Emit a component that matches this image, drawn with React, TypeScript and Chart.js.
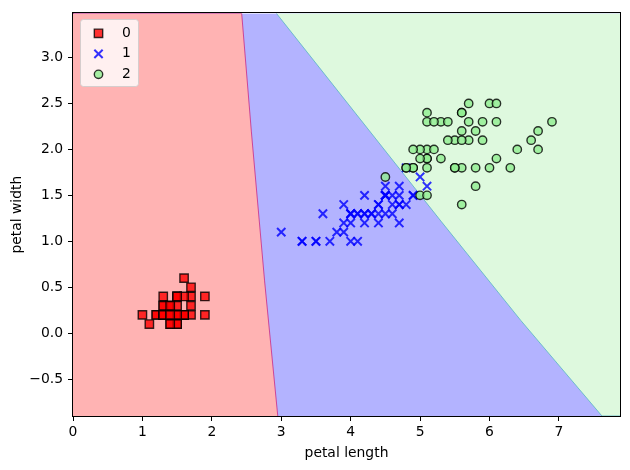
import React, { useEffect, useRef } from 'react';
import { Chart, registerables } from 'chart.js';

Chart.register(...registerables);

// ---- data ----
const classLabels = ['0', '1', '2'];

const setosaLength = [1.4, 1.4, 1.3, 1.5, 1.4, 1.7, 1.4, 1.5, 1.4, 1.5, 1.5, 1.6, 1.4, 1.1, 1.2, 1.5, 1.3, 1.4, 1.7, 1.5, 1.7, 1.5, 1.0, 1.7, 1.9, 1.6, 1.6, 1.5, 1.4, 1.6, 1.6, 1.5, 1.5, 1.4, 1.5, 1.2, 1.3, 1.4, 1.3, 1.5, 1.3, 1.3, 1.3, 1.6, 1.9, 1.4, 1.6, 1.4, 1.5, 1.4];
const setosaWidth = [0.2, 0.2, 0.2, 0.2, 0.2, 0.4, 0.3, 0.2, 0.2, 0.1, 0.2, 0.2, 0.1, 0.1, 0.2, 0.4, 0.4, 0.3, 0.3, 0.3, 0.2, 0.4, 0.2, 0.5, 0.2, 0.2, 0.4, 0.2, 0.2, 0.2, 0.2, 0.4, 0.1, 0.2, 0.2, 0.2, 0.2, 0.1, 0.2, 0.2, 0.3, 0.3, 0.2, 0.6, 0.4, 0.3, 0.2, 0.2, 0.2, 0.2];

const versicolorLength = [4.7, 4.5, 4.9, 4.0, 4.6, 4.5, 4.7, 3.3, 4.6, 3.9, 3.5, 4.2, 4.0, 4.7, 3.6, 4.4, 4.5, 4.1, 4.5, 3.9, 4.8, 4.0, 4.9, 4.7, 4.3, 4.4, 4.8, 5.0, 4.5, 3.5, 3.8, 3.7, 3.9, 5.1, 4.5, 4.5, 4.7, 4.4, 4.1, 4.0, 4.4, 4.6, 4.0, 3.3, 4.2, 4.2, 4.2, 4.3, 3.0, 4.1];
const versicolorWidth = [1.4, 1.5, 1.5, 1.3, 1.5, 1.3, 1.6, 1.0, 1.3, 1.4, 1.0, 1.5, 1.0, 1.4, 1.3, 1.4, 1.5, 1.0, 1.5, 1.1, 1.8, 1.3, 1.5, 1.2, 1.3, 1.4, 1.4, 1.7, 1.5, 1.0, 1.1, 1.0, 1.2, 1.6, 1.5, 1.6, 1.5, 1.3, 1.3, 1.3, 1.2, 1.4, 1.2, 1.0, 1.3, 1.2, 1.3, 1.3, 1.1, 1.3];

const virginicaLength = [6.0, 5.1, 5.9, 5.6, 5.8, 6.6, 4.5, 6.3, 5.8, 6.1, 5.1, 5.3, 5.5, 5.0, 5.1, 5.3, 5.5, 6.7, 6.9, 5.0, 5.7, 4.9, 6.7, 4.9, 5.7, 6.0, 4.8, 4.9, 5.6, 5.8, 6.1, 6.4, 5.6, 5.1, 5.6, 6.1, 5.6, 5.5, 4.8, 5.4, 5.6, 5.1, 5.1, 5.9, 5.7, 5.2, 5.0, 5.2, 5.4, 5.1];
const virginicaWidth = [2.5, 1.9, 2.1, 1.8, 2.2, 2.1, 1.7, 1.8, 1.8, 2.5, 2.0, 1.9, 2.1, 2.0, 2.4, 2.3, 1.8, 2.2, 2.3, 1.5, 2.3, 2.0, 2.0, 1.8, 2.1, 1.8, 1.8, 1.8, 2.1, 1.6, 1.9, 2.0, 2.2, 1.5, 1.4, 2.3, 2.4, 1.8, 1.8, 2.1, 2.4, 2.3, 1.9, 2.3, 2.5, 2.3, 1.9, 2.0, 2.3, 1.8];

// plot ranges (meshgrid extent)
const xRange = [0, 7.88];
const yRange = [-0.9, 3.48];

// decision-region outlines (data units)
const regionBlueX = [0, 7.88];
const regionBlueY = [-0.9, -0.9];
const regionRedX = [0, 2.43, 2.57, 2.76, 2.95];
const regionRedY = [3.48, 3.48, 2.19, 0.57, -0.9];
const regionGreenX = [2.93, 5.3, 6.45, 7.62, 7.88];
const regionGreenY = [3.48, 1.22, 0.14, -0.9, -0.9];

const xTickStep = 1;
const yTickStep = 0.5;

const zip = (xs: number[], ys: number[]) => xs.map((x, i) => ({ x, y: ys[i] }));

const FONT = 'DejaVu Sans';
const FS = 13.9;

const markerStyles = [
  { style: 'rect', fill: 'rgba(255,0,0,0.8)', stroke: 'rgba(0,0,0,0.8)', r: 5.9, bw: 1.4 },
  { style: 'crossRot', fill: 'rgba(0,0,255,0.8)', stroke: 'rgba(0,0,255,0.8)', r: 5.9, bw: 2 },
  { style: 'circle', fill: 'rgba(144,238,144,0.8)', stroke: 'rgba(0,0,0,0.8)', r: 4.2, bw: 1.4 },
];

function drawMarker(ctx: CanvasRenderingContext2D, i: number, x: number, y: number) {
  const m = markerStyles[i];
  ctx.save();
  ctx.lineWidth = m.bw;
  ctx.fillStyle = m.fill;
  ctx.strokeStyle = m.stroke;
  ctx.beginPath();
  if (m.style === 'rect') {
    const s = Math.SQRT1_2 * m.r;
    ctx.rect(x - s, y - s, 2 * s, 2 * s);
    ctx.fill();
    ctx.stroke();
  } else if (m.style === 'circle') {
    ctx.arc(x, y, m.r, 0, Math.PI * 2);
    ctx.fill();
    ctx.stroke();
  } else {
    const o = Math.SQRT1_2 * m.r;
    ctx.moveTo(x - o, y - o);
    ctx.lineTo(x + o, y + o);
    ctx.moveTo(x - o, y + o);
    ctx.lineTo(x + o, y - o);
    ctx.stroke();
  }
  ctx.restore();
}

const spinePlugin = {
  id: 'spines',
  afterDatasetsDraw(chart: any) {
    const { ctx, chartArea: a } = chart;
    ctx.save();
    ctx.strokeStyle = '#000';
    ctx.lineWidth = 1;
    ctx.strokeRect(Math.round(a.left) - 0.5, Math.round(a.top) - 0.5, Math.round(a.right - a.left) + 1, Math.round(a.bottom - a.top) + 1);
    ctx.restore();
  },
};

const legendPlugin = {
  id: 'mplLegend',
  afterDraw(chart: any) {
    const { ctx, chartArea: a } = chart;
    ctx.save();
    const x0 = Math.round(a.left) + 7.5;
    const y0 = Math.round(a.top) + 6.5;
    const w = 58;
    const h = 67;
    const r = 3;
    ctx.beginPath();
    ctx.moveTo(x0 + r, y0);
    ctx.arcTo(x0 + w, y0, x0 + w, y0 + h, r);
    ctx.arcTo(x0 + w, y0 + h, x0, y0 + h, r);
    ctx.arcTo(x0, y0 + h, x0, y0, r);
    ctx.arcTo(x0, y0, x0 + w, y0, r);
    ctx.closePath();
    ctx.fillStyle = 'rgba(255,255,255,0.8)';
    ctx.fill();
    ctx.strokeStyle = 'rgba(204,204,204,0.8)';
    ctx.lineWidth = 1;
    ctx.stroke();
    ctx.font = `${FS}px "${FONT}"`;
    ctx.fillStyle = '#000';
    ctx.textAlign = 'left';
    ctx.textBaseline = 'middle';
    classLabels.forEach((lab, i) => {
      const cy = a.top + 20 + i * 20.5;
      drawMarker(ctx, i, a.left + 25.5, cy);
      ctx.fillText(lab, a.left + 49, cy);
    });
    ctx.restore();
  },
};

const fmtMinus = (v: number, d: number) => {
  const s = Number(v).toFixed(d);
  return s.startsWith('-') ? '\u2212' + s.slice(1) : s;
};

export default function App() {
  const ref = useRef<HTMLCanvasElement | null>(null);

  useEffect(() => {
    if (!ref.current) return;
    Chart.defaults.font.family = FONT;
    Chart.defaults.font.size = FS;
    Chart.defaults.color = '#000';

    const scatterSets = [
      [setosaLength, setosaWidth],
      [versicolorLength, versicolorWidth],
      [virginicaLength, virginicaWidth],
    ].map(([xs, ys], i) => {
      const m = markerStyles[i];
      return {
        type: 'scatter' as const,
        label: classLabels[i],
        data: zip(xs, ys),
        pointStyle: m.style,
        pointRadius: m.r,
        pointHoverRadius: m.r,
        pointBackgroundColor: m.fill,
        pointBorderColor: m.stroke,
        pointBorderWidth: m.bw,
        backgroundColor: m.fill,
        borderColor: m.stroke,
        order: 3 - i,
      };
    });

    const regionBase = {
      type: 'line' as const,
      pointRadius: 0,
      pointHoverRadius: 0,
      tension: 0,
    };

    const chart = new Chart(ref.current, {
      type: 'scatter',
      data: {
        datasets: [
          ...scatterSets,
          {
            ...regionBase,
            label: 'region0',
            data: zip(regionRedX, regionRedY),
            fill: 'start',
            backgroundColor: '#FFB3B3',
            borderColor: 'rgba(200,50,140,0.85)',
            borderWidth: 1,
            order: 11,
          },
          {
            ...regionBase,
            label: 'region2',
            data: zip(regionGreenX, regionGreenY),
            fill: 'end',
            backgroundColor: '#DEF9DE',
            borderColor: 'rgba(100,185,200,0.9)',
            borderWidth: 1,
            order: 11,
          },
          {
            ...regionBase,
            label: 'region1',
            data: zip(regionBlueX, regionBlueY),
            fill: 'end',
            backgroundColor: '#B3B3FF',
            borderWidth: 0,
            order: 12,
          },
        ] as any,
      },
      options: {
        responsive: false,
        animation: false,
        devicePixelRatio: 1,
        layout: { padding: { top: 10, right: 10, left: 0, bottom: 0 } },
        plugins: {
          legend: { display: false },
          tooltip: { enabled: false },
        },
        events: [],
        scales: {
          x: {
            type: 'linear',
            min: xRange[0],
            max: xRange[1],
            afterFit: (s: any) => { s.height = 54; },
            ticks: {
              stepSize: xTickStep,
              includeBounds: false,
              padding: 3,
              color: '#000',
              font: { family: FONT, size: FS },
              callback: (v: any) => fmtMinus(Number(v), 0),
            },
            grid: { drawOnChartArea: false, drawTicks: true, tickLength: 5, color: '#000', tickWidth: 1 },
            border: { display: true, color: '#000', width: 1 },
            title: { display: true, text: 'petal length', color: '#000', font: { family: FONT, size: FS }, padding: { top: 0, bottom: 8 } },
          },
          y: {
            type: 'linear',
            min: yRange[0],
            max: yRange[1],
            afterFit: (s: any) => { s.width = 73; },
            ticks: {
              stepSize: yTickStep,
              includeBounds: false,
              padding: 5,
              color: '#000',
              font: { family: FONT, size: FS },
              callback: (v: any) => fmtMinus(Number(v), 1),
            },
            grid: { drawOnChartArea: false, drawTicks: true, tickLength: 5, color: '#000', tickWidth: 1 },
            border: { display: true, color: '#000', width: 1 },
            title: { display: true, text: 'petal width', color: '#000', font: { family: FONT, size: FS }, padding: { top: 9, bottom: 0 } },
          },
        },
      } as any,
      plugins: [spinePlugin, legendPlugin],
    });
    return () => chart.destroy();
  }, []);

  return (
    <div style={{ position: 'absolute', left: 0, top: 0, width: 630, height: 470, background: '#fff' }}>
      <canvas ref={ref} width={630} height={470} style={{ display: 'block', width: 630, height: 470 }} />
    </div>
  );
}
